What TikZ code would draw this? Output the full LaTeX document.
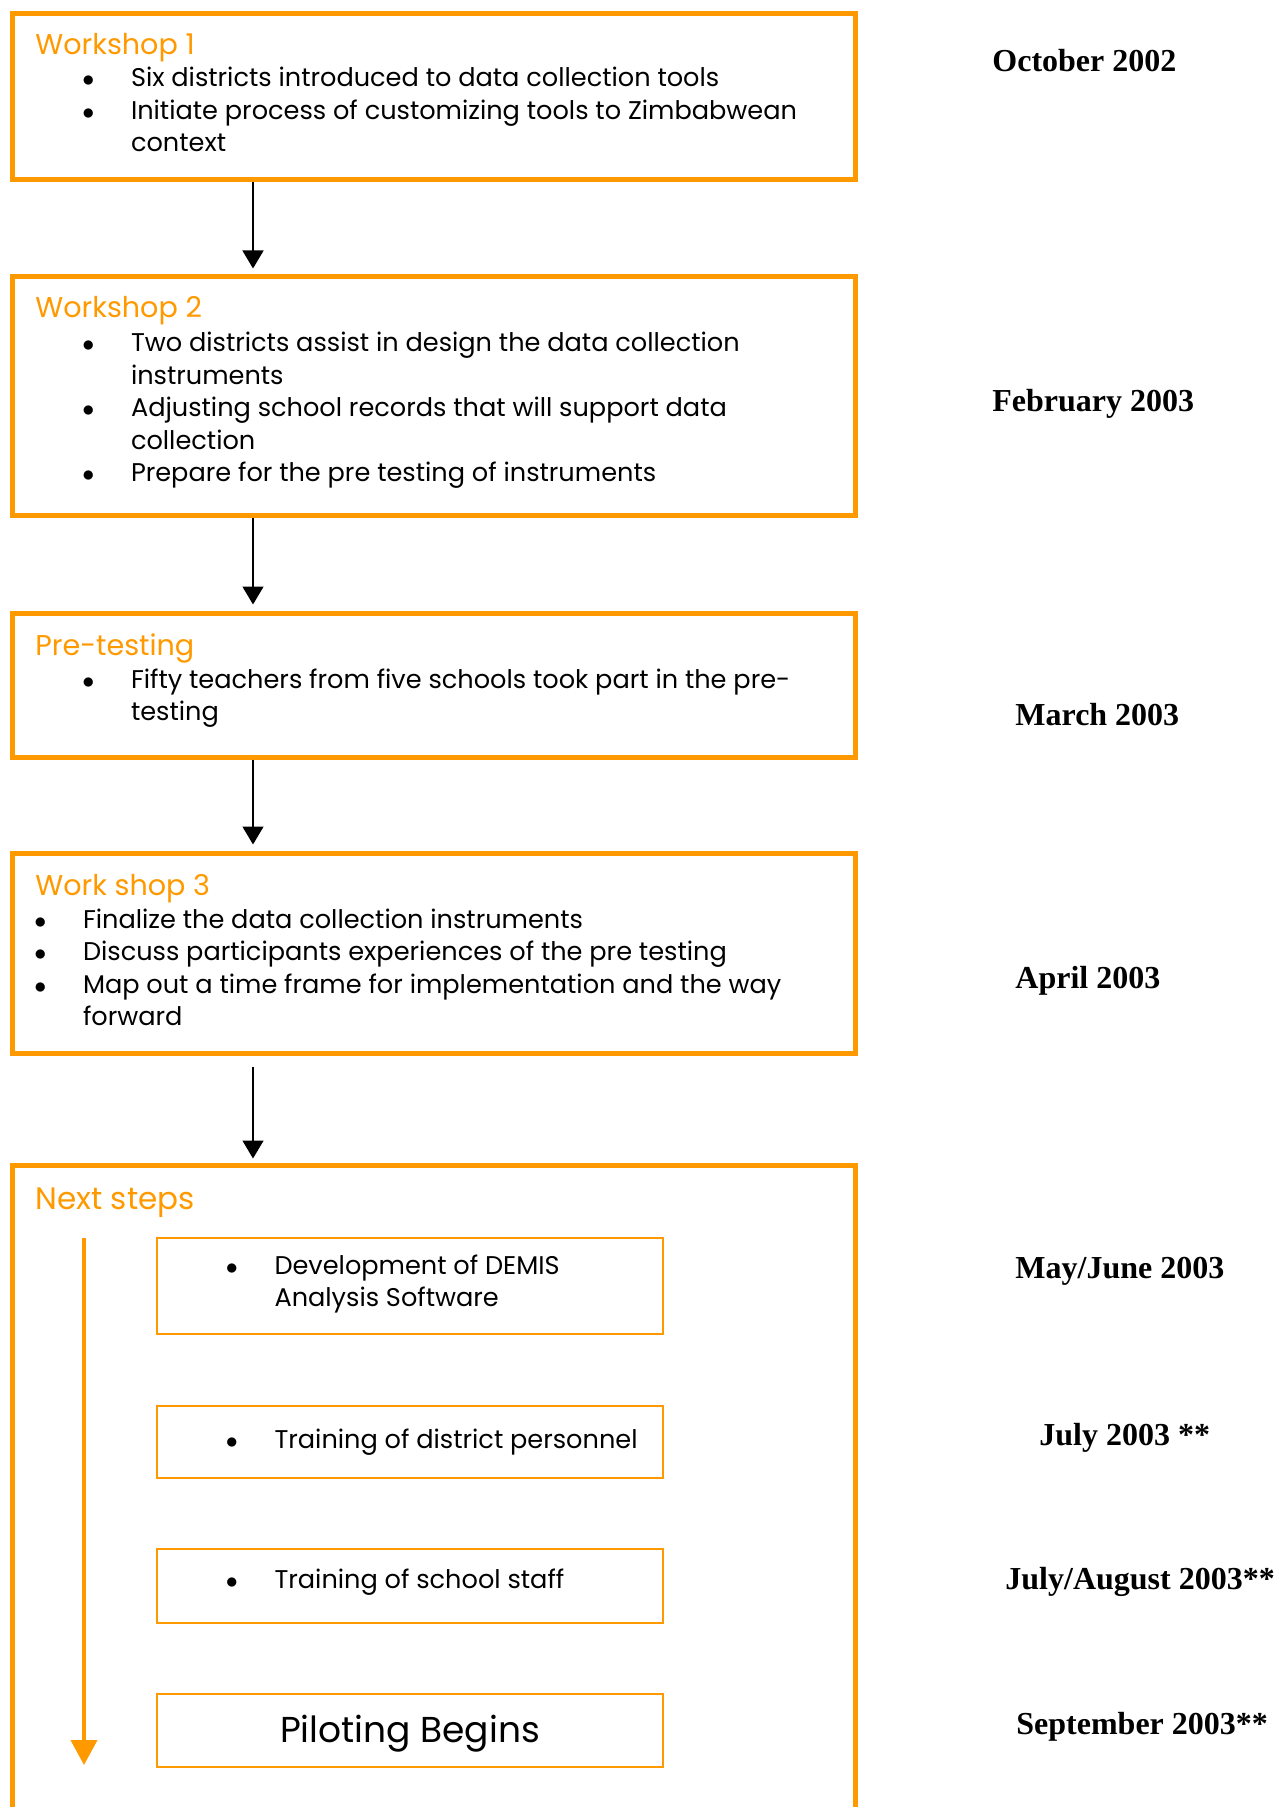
\documentclass[tikz,border=0pt]{standalone}
\usepackage{fontspec}
\setmainfont{Poppins}
\newfontfamily\datefont{Liberation Serif}
\usepackage{array}
\usetikzlibrary{arrows.meta,fit}
\definecolor{orng}{HTML}{FF9900}
\newcommand{\blist}[1]{\begin{tabular}[t]{@{}w{c}{8pt}@{\hspace{17.3pt}}l@{}}#1\end{tabular}}
\newcommand{\bu}{$\bullet$}

\tikzset{
  stage/.style={draw=orng, line width=2.5pt, inner sep=0pt},
  substep/.style={draw=orng, line width=1pt, inner sep=0pt},
  head/.style={anchor=base west, inner sep=0pt, text=orng, font=\fontsize{14.3}{17}\selectfont},
  body/.style={anchor=base west, inner sep=0pt, font=\fontsize{12.8}{16.25}\selectfont},
  when/.style={anchor=base west, inner sep=0pt, font=\datefont\bfseries\fontsize{16}{19}\selectfont},
  link/.style={-{Triangle[width=10.5pt,length=9pt]}, line width=0.75pt, shorten >=3pt},
  flow/.style={-{Triangle[width=13pt,length=12.5pt]}, draw=orng, line width=2pt},
}

\begin{document}
\begin{tikzpicture}[x=0.5pt,y=-0.5pt]
  \useasboundingbox (0,0) rectangle (1277,1807);
  % stage frames
  \node[stage, fit={(12,14) (855,180)}]    (w1) {};
  \node[stage, fit={(12,277) (855,516)}]   (w2) {};
  \node[stage, fit={(12,613) (855,757)}]   (pt) {};
  \node[stage, fit={(12,853) (855,1053)}]  (w3) {};
  \node[stage, fit={(12,1165) (855,1840)}] (ns) {};
  \coordinate (ax) at (253,0);
  \draw[link] (w1.south -| ax) -- (w2.north -| ax);
  \draw[link] (w2.south -| ax) -- (pt.north -| ax);
  \draw[link] (pt.south -| ax) -- (w3.north -| ax);
  \draw[link, shorten <=5.5pt, shorten >=2pt] (w3.south -| ax) -- (ns.north -| ax);

  % Workshop 1
  \node[head] (w1h) at (35,55) {Workshop 1};
  \node[body] (w1b) at (80,87) {\blist{\bu & Six districts introduced to data collection tools\\
    \bu & Initiate process of customizing tools to Zimbabwean\\ & context}};
  % Workshop 2
  \node[head] (w2h) at (35,318) {Workshop 2};
  \node[body] (w2b) at (80,351.7) {\blist{\bu & Two districts assist in design the data collection\\ & instruments\\
    \bu & Adjusting school records that will support data\\ & collection\\
    \bu & Prepare for the pre testing of instruments}};
  % Pre-testing
  \node[head] (pth) at (35,655) {Pre-testing};
  \node[body] (ptb) at (80,688) {\blist{\bu & Fifty teachers from five schools took part in the pre-\\ & testing}};
  % Work shop 3
  \node[head] (w3h) at (35,895) {Work shop 3};
  \node[body] (w3b) at (32,928.3) {\blist{\bu & Finalize the data collection instruments\\
    \bu & Discuss participants experiences of the pre testing\\
    \bu & Map out a time frame for implementation and the way\\ & forward}};
  % Next steps
  \node[head, font=\fontsize{15.5}{19}\selectfont] (nsh) at (35,1209) {Next steps};
  \node[substep, fit={(157,1238) (663,1334)}] (s1) {};
  \node[substep, fit={(157,1406) (663,1478)}] (s2) {};
  \node[substep, fit={(157,1549) (663,1623)}] (s3) {};
  \node[substep, fit={(157,1694) (663,1767)}] (s4) {};
  \node[body] (s1b) at (223.5,1274) {\blist{\bu & Development of DEMIS\\ & Analysis Software}};
  \node[body] (s2b) at (223.5,1448) {\blist{\bu & Training of district personnel}};
  \node[body] (s3b) at (223.5,1588) {\blist{\bu & Training of school staff}};
  \node[body, anchor=base, font=\fontsize{18}{21}\selectfont] (s4b) at (410,1742) {Piloting Begins};
  \coordinate (fl1) at (84,1238);
  \coordinate (fl2) at (84,1765);
  \draw[flow] (fl1) -- (fl2);

  % dates
  \node[when] (d1) at (992,72)    {October 2002};
  \node[when] (d2) at (992,412)   {February 2003};
  \node[when] (d3) at (1015,725)  {March 2003};
  \node[when] (d4) at (1015,988)  {April 2003};
  \node[when] (d5) at (1015,1278) {May/June 2003};
  \node[when] (d6) at (1039,1445) {July 2003 **};
  \node[when] (d7) at (1005,1589) {July/August 2003**};
  \node[when] (d8) at (1016,1734) {September 2003**};
\end{tikzpicture}
\end{document}
